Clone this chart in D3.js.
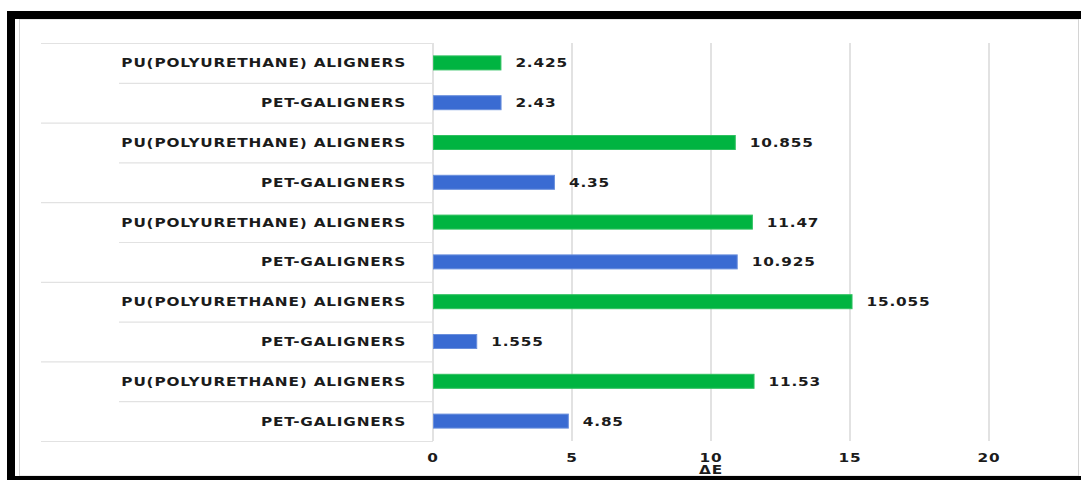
<!DOCTYPE html>
<html><head><meta charset="utf-8">
<script src="https://cdn.jsdelivr.net/npm/d3@7/dist/d3.min.js"></script>
<style>
html,body{margin:0;padding:0;background:#fff;}
svg{display:block;}
text{font-family:"DejaVu Sans",Verdana,sans-serif;font-weight:bold;fill:#1b1b1b;}
</style></head>
<body>
<svg id="c" width="1081" height="480"></svg>
<script>
const categories = ["PU(POLYURETHANE) ALIGNERS","PET-GALIGNERS","PU(POLYURETHANE) ALIGNERS","PET-GALIGNERS","PU(POLYURETHANE) ALIGNERS","PET-GALIGNERS","PU(POLYURETHANE) ALIGNERS","PET-GALIGNERS","PU(POLYURETHANE) ALIGNERS","PET-GALIGNERS"];
const values = [2.425, 2.43, 10.855, 4.35, 11.47, 10.925, 15.055, 1.555, 11.53, 4.85];
const valueLabels = ["2.425","2.43","10.855","4.35","11.47","10.925","15.055","1.555","11.53","4.85"];
const seriesType = ["PU","PET","PU","PET","PU","PET","PU","PET","PU","PET"];
const xTicks = [0,5,10,15,20];
const axisTitle = "ΔE";

const colors = {PU:"#00b441", PET:"#3a6bd2"};
const strokeC = {PU:"#2fc060", PET:"#6a8fdc"};

const svg = d3.select("#c");
// frame
svg.append("rect").attr("x",19.5).attr("y",19).attr("width",1059).attr("height",457)
  .attr("fill","#fff").attr("stroke","#d4d4d4").attr("stroke-width",1);
svg.append("rect").attr("x",11).attr("y",15).attr("width",1078).attr("height",465)
  .attr("fill","none").attr("stroke","#000").attr("stroke-width",8);

const plotTop = 43, plotBottom = 441;
const x = d3.scaleLinear().domain([0,20]).range([433, 989]);
const idx = d3.range(categories.length);
const y = d3.scaleBand().domain(idx).range([plotTop,plotBottom]).paddingInner(0).paddingOuter(0);

// gridlines
const g = svg.append("g");
g.selectAll("line.grid").data(xTicks).join("line")
  .attr("x1",d=>x(d)).attr("x2",d=>x(d)).attr("y1",plotTop).attr("y2",plotBottom)
  .attr("stroke","#d9d9d9").attr("stroke-width",1.5);

// category separator lines (hierarchical axis)
const bounds = d3.range(categories.length+1);
g.selectAll("line.sep").data(bounds).join("line")
  .attr("x1",d=> (d%2===0)?41:119).attr("x2",x(0))
  .attr("y1",d=> (d<categories.length? y(d): plotBottom)+0.5)
  .attr("y2",d=> (d<categories.length? y(d): plotBottom)+0.5)
  .attr("stroke","#e2e2e2").attr("stroke-width",1.2);

// bars
const bh = 14;
svg.selectAll("rect.bar").data(idx).join("rect")
  .attr("x",x(0)+0.5).attr("y",i=>y(i)+y.bandwidth()/2-bh/2)
  .attr("width",i=>x(values[i])-x(0)).attr("height",bh)
  .attr("fill",i=>colors[seriesType[i]]).attr("stroke",i=>strokeC[seriesType[i]]).attr("stroke-width",1);

const FS = "11.5px", LS = "0.6px";
// measure stretch factor
const probe = svg.append("text").attr("font-size",FS).attr("letter-spacing",LS).text(categories[0]);
const sx = 285 / probe.node().getComputedTextLength();
probe.remove();

function place(sel, fx, fy){
  return sel.attr("transform",(d,i)=>`translate(${fx(d,i)},${fy(d,i)}) scale(${sx},1)`)
    .attr("font-size",FS).attr("letter-spacing",LS);
}

// value labels
place(svg.selectAll("text.val").data(idx).join("text"),
  i=>x(values[i])+15, i=>y(i)+y.bandwidth()/2+4.5)
  .text(i=>valueLabels[i]);

// category labels
place(svg.selectAll("text.cat").data(idx).join("text"),
  ()=>406, i=>y(i)+y.bandwidth()/2+4.5)
  .attr("text-anchor","end")
  .text(i=>categories[i]);

// x tick labels
place(svg.selectAll("text.tick").data(xTicks).join("text"),
  d=>x(d), ()=>462)
  .attr("text-anchor","middle")
  .text(d=>d);

place(svg.append("text").datum(0), ()=>x(10), ()=>474)
  .attr("text-anchor","middle").text(axisTitle);
</script>
</body></html>
